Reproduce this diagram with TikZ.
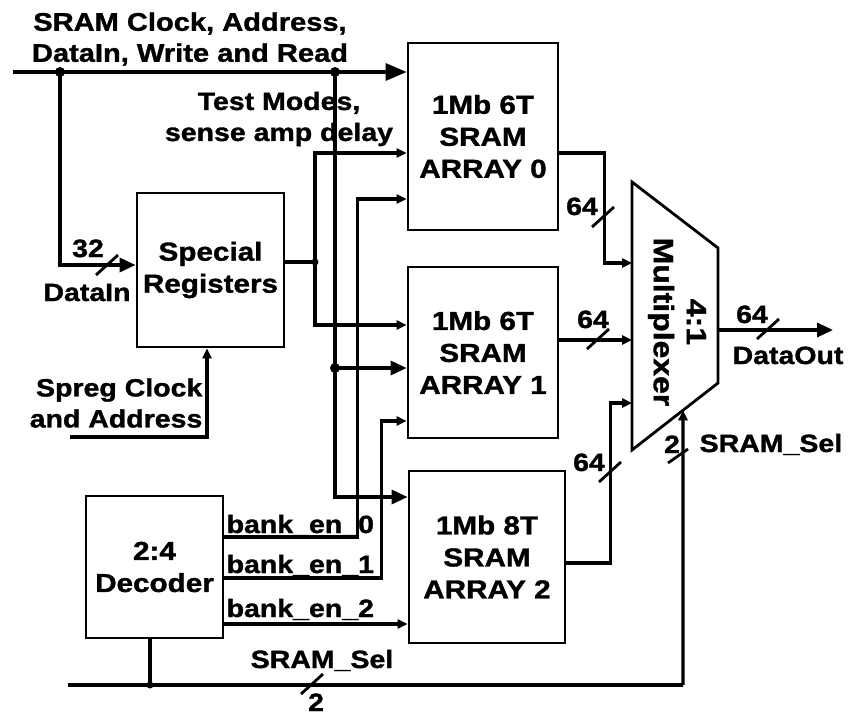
\documentclass[tikz,border=0pt]{standalone}
\usepackage{fontspec}
\setmainfont{Liberation Sans}[FakeStretch=1.14,FakeBold=1.3]
\usetikzlibrary{arrows.meta,calc,positioning}

\begin{document}
\begin{tikzpicture}[x=1pt,y=-1pt,line width=3.3pt,
  font=\fontsize{25}{31}\selectfont\bfseries,
  >={Triangle[length=10pt,width=9pt]},
  big/.style={-{Triangle[length=16pt,width=14pt]}},
  blk/.style={draw,line width=2.8pt,align=center,inner sep=0pt,
    font=\fontsize{26}{32}\selectfont\bfseries},
  lbl/.style={inner sep=0pt}]
\useasboundingbox (0,0) rectangle (848,715);
% blocks
\node[blk,minimum width=150pt,minimum height=187pt] (arr0) at (483,136.5) {1Mb 6T\\SRAM\\ARRAY 0};
\node[blk,minimum width=150pt,minimum height=171pt] (arr1) at (483,352.5) {1Mb 6T\\SRAM\\ARRAY 1};
\node[blk,minimum width=156pt,minimum height=172pt] (arr2) at (487,557) {1Mb 8T\\SRAM\\ARRAY 2};
\node[blk,minimum width=147pt,minimum height=154pt] (spreg) at (210.5,270) {Special\\Registers};
\node[blk,minimum width=137pt,minimum height=142pt] (dec) at (154.5,567) {2:4\\Decoder};
% the multiplexer
\coordinate (mtl) at (632,182);
\coordinate (mtr) at (718,248);
\coordinate (mbr) at (718,383);
\coordinate (mbl) at (632,450);
\draw[line width=2.8pt] (mtl) -- (mtr) -- (mbr) -- (mbl) -- cycle;
\node[rotate=-90,align=center,lbl,font=\fontsize{28}{33}\selectfont\bfseries] (mux) at (677,322) {4:1\\Multiplexer};
% SRAM bus along the top
\coordinate (busin) at (13,72);
\coordinate (j1) at (60,72);
\coordinate (j2) at (335,72);
\coordinate (j3) at (335,368);
\draw[-{Triangle[length=21pt,width=17pt]}] (busin) -- (arr0.west |- busin);
\draw[big] (j1) |- ([yshift=5pt]spreg.west);
\draw[big] (j2) |- (arr2.west |- 0,497);
\draw[big] (j3) -- (arr1.west |- j3);
\foreach \j in {j1,j2,j3} {\fill (\j) circle (5pt);}
% special registers out
\coordinate (sj) at (315,262);
\draw (spreg.east |- sj) -- (sj);
\draw[->] (sj) |- (arr0.west |- 0,153);
\draw[->] (sj) |- (arr1.west |- 0,325);
\fill (sj) circle (3.5pt);
\coordinate (spin) at (70,437);
\draw[->] (spin) -| ([xshift=-3.5pt]spreg.south);
% decoder outputs
\draw[->] (dec.east |- 0,537) -- ++(133,0) |- (arr0.west |- 0,199);
\draw[->] (dec.east |- 0,578) -- ++(157,0) |- (arr1.west |- 0,421);
\draw[->] (dec.east |- 0,624) -- (arr2.west |- 0,624);
% select lines
\coordinate (selin) at (68,685);
\coordinate (sj2) at (150,685);
\coordinate (selup) at (683,685);
\coordinate (msel) at ($(mbl)!0.593!(mbr)$);
\draw (selin) -- (selup);
\draw[->] (selup) -- (msel);
\draw (sj2 |- dec.south) -- (sj2);
\fill (sj2) circle (3.5pt);
% into and out of the multiplexer
\draw[->] (arr0.east |- 0,153) -- ++(45,0) |- (mtl |- 0,263);
\draw[->] (arr1.east |- 0,340) -- (mtl |- 0,340);
\draw[->] (arr2.east |- 0,563) -- ++(44,0) |- (mtl |- 0,403);
\coordinate (mout) at (718,330);
\coordinate (dout) at (833,330);
\draw[big] (mout) -- (dout);
% bus widths
\foreach \p in {(107,265),(603,217),(598,339),(610,472),(768,329),(312,684)}
  {\draw[line width=2.8pt] \p ++(-11,10) -- ++(22,-20);}
\draw[line width=2.8pt] (678,456) ++(-10,7) -- ++(20,-14);
% labels
\node[align=center,lbl,font=\fontsize{25.5}{31}\selectfont\bfseries] (tbus) at (190,39) {SRAM Clock, Address,\\DataIn, Write and Read};
\node[align=center,lbl] (ttest) at (279,119) {Test Modes,\\sense amp delay};
\node[align=right,anchor=east,lbl] (tspreg) at (204,403) {Spreg Clock\\and Address};
\node[anchor=base,lbl] (l32) at (88,257) {32};
\node[anchor=base,lbl] (ldin) at (87,301) {DataIn};
\node[anchor=base west,lbl] (len0) at (225,533) {bank\_en\_0};
\node[anchor=base west,lbl] (len1) at (225,573) {bank\_en\_1};
\node[anchor=base west,lbl] (len2) at (225,617) {bank\_en\_2};
\node[anchor=base,lbl] (lsel) at (322,668) {SRAM\_Sel};
\node[anchor=base,lbl] (lsel2) at (316,711) {2};
\node[anchor=base west,lbl] (rsel) at (698,452) {SRAM\_Sel};
\node[anchor=base,lbl] (rsel2) at (672,453) {2};
\node[anchor=base,lbl] (l64a) at (582,215) {64};
\node[anchor=base,lbl] (l64b) at (593,328) {64};
\node[anchor=base,lbl] (l64c) at (589,471) {64};
\node[anchor=base,lbl] (l64o) at (752,323) {64};
\node[anchor=base,lbl] (ldout) at (788,364) {DataOut};
\end{tikzpicture}
\end{document}
